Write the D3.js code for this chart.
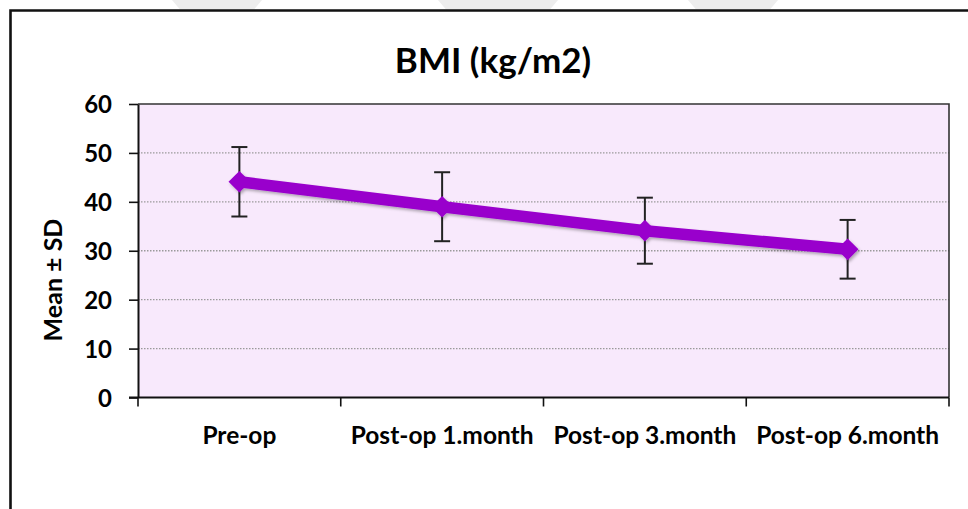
<!DOCTYPE html>
<html>
<head>
<meta charset="utf-8">
<script src="https://cdn.jsdelivr.net/npm/d3@7"></script>
<style>
  html, body { margin: 0; padding: 0; background: #fff; }
  svg { display: block; }
  text { font-family: Lato, "Open Sans", sans-serif; font-weight: bold; fill: #000; }
</style>
</head>
<body>
<svg id="chart" width="968" height="509"></svg>
<script>
// BMI over follow-up visits, mean ± SD
const categories = ["Pre-op", "Post-op 1.month", "Post-op 3.month", "Post-op 6.month"];
const means = [44.1, 39.0, 34.1, 30.3];
const sds = [7.1, 7.05, 6.75, 6.0];
const yTicks = [0, 10, 20, 30, 40, 50, 60];

const svg = d3.select("#chart");
const W = 968, H = 509;
const m = { left: 138, right: 949, top: 104, bottom: 397.5 };

// faint background chevrons above the frame
const bgShapes = [
  [[172, 0], [262, 0], [254, 9.5], [180, 9.5]],
  [[438, 0], [558, 0], [550, 9.5], [446, 9.5]],
  [[688, 0], [778, 0], [770, 9.5], [696, 9.5]]
];
svg.append("g").selectAll("polygon").data(bgShapes).join("polygon")
  .attr("points", d => d.map(p => p.join(",")).join(" "))
  .attr("fill", "#ededed");

// outer frame (open at the right and bottom)
svg.append("path")
  .attr("d", `M10.5,${H + 5} L10.5,10.5 L${W + 5},10.5`)
  .attr("fill", "none").attr("stroke", "#111").attr("stroke-width", 2.6);

const x = d3.scaleBand().domain(categories).range([m.left, m.right]).padding(0);
const y = d3.scaleLinear().domain([0, 60]).range([m.bottom, m.top]);

// plot area
svg.append("rect")
  .attr("x", m.left).attr("y", m.top)
  .attr("width", m.right - m.left).attr("height", m.bottom - m.top)
  .attr("fill", "#f8e9fc");

// dotted gridlines
svg.append("g").selectAll("line").data(yTicks.filter(v => v > 0 && v < 60)).join("line")
  .attr("x1", m.left).attr("x2", m.right)
  .attr("y1", d => y(d)).attr("y2", d => y(d))
  .attr("stroke", "#9a9a9a").attr("stroke-width", 1.3)
  .attr("stroke-dasharray", "1.5,1.5");

// top and right border of plot area
svg.append("path")
  .attr("d", `M${m.left},${y(60)} L${m.right},${y(60)} L${m.right},${m.bottom}`)
  .attr("fill", "none").attr("stroke", "#333").attr("stroke-width", 1.6);

// y axis
const yAxis = svg.append("g")
  .attr("transform", `translate(${m.left},0)`)
  .call(d3.axisLeft(y).tickValues(yTicks).tickSize(9).tickPadding(17).tickSizeOuter(0));
yAxis.select(".domain").attr("stroke", "#111").attr("stroke-width", 2);
yAxis.selectAll(".tick line").attr("stroke", "#111").attr("stroke-width", 1.6);
yAxis.selectAll(".tick text").attr("font-size", 24).attr("font-family", "Lato, sans-serif")
  .attr("font-weight", "bold").attr("fill", "#000").attr("dy", "0.36em");

// x axis: ticks at category boundaries
const bounds = categories.map(c => x(c)).concat([m.right]);
const xAxisG = svg.append("g");
xAxisG.append("line")
  .attr("x1", m.left - 9).attr("x2", m.right)
  .attr("y1", y(0)).attr("y2", y(0))
  .attr("stroke", "#111").attr("stroke-width", 2);
xAxisG.selectAll("line.tk").data(bounds).join("line").attr("class", "tk")
  .attr("x1", d => d).attr("x2", d => d)
  .attr("y1", y(0)).attr("y2", y(0) + 9)
  .attr("stroke", "#111").attr("stroke-width", 1.6);
xAxisG.selectAll("text").data(categories).join("text")
  .attr("x", d => x(d) + x.bandwidth() / 2)
  .attr("y", 444)
  .attr("text-anchor", "middle")
  .attr("font-size", 24.5)
  .text(d => d);

// title
svg.append("text")
  .attr("x", 493).attr("y", 73)
  .attr("text-anchor", "middle")
  .attr("font-size", 35)
  .text("BMI (kg/m2)");

// y axis label
svg.append("text")
  .attr("transform", "translate(62,280) rotate(-90)")
  .attr("text-anchor", "middle")
  .attr("font-size", 25)
  .text("Mean ± SD");

const cx = d => x(d) + x.bandwidth() / 2;
const pts = categories.map((c, i) => ({ c, mean: means[i], sd: sds[i] }));

// error bars
const eb = svg.append("g").attr("stroke", "#222").attr("stroke-width", 2);
eb.selectAll("line.v").data(pts).join("line").attr("class", "v")
  .attr("x1", d => cx(d.c)).attr("x2", d => cx(d.c))
  .attr("y1", d => y(d.mean + d.sd)).attr("y2", d => y(d.mean - d.sd));
eb.selectAll("line.t").data(pts).join("line").attr("class", "t")
  .attr("x1", d => cx(d.c) - 8).attr("x2", d => cx(d.c) + 8)
  .attr("y1", d => y(d.mean + d.sd)).attr("y2", d => y(d.mean + d.sd));
eb.selectAll("line.b").data(pts).join("line").attr("class", "b")
  .attr("x1", d => cx(d.c) - 8).attr("x2", d => cx(d.c) + 8)
  .attr("y1", d => y(d.mean - d.sd)).attr("y2", d => y(d.mean - d.sd));

// soft shadow under the series
const defs = svg.append("defs");
const f = defs.append("filter").attr("id", "shadow")
  .attr("x", "-20%").attr("y", "-20%").attr("width", "140%").attr("height", "160%");
f.append("feDropShadow").attr("dx", 1.5).attr("dy", 2).attr("stdDeviation", 1.8)
  .attr("flood-color", "#000").attr("flood-opacity", 0.3);

const series = svg.append("g").attr("filter", "url(#shadow)");
const purple = "#9900cc";
series.append("path")
  .datum(pts)
  .attr("d", d3.line().x(d => cx(d.c)).y(d => y(d.mean)))
  .attr("fill", "none").attr("stroke", purple).attr("stroke-width", 11.5)
  .attr("stroke-linejoin", "round");

series.selectAll("path.mk").data(pts).join("path").attr("class", "mk")
  .attr("transform", d => `translate(${cx(d.c)},${y(d.mean)})`)
  .attr("d", d3.symbol(d3.symbolDiamond2, 300))
  .attr("fill", purple);
</script>
</body>
</html>
